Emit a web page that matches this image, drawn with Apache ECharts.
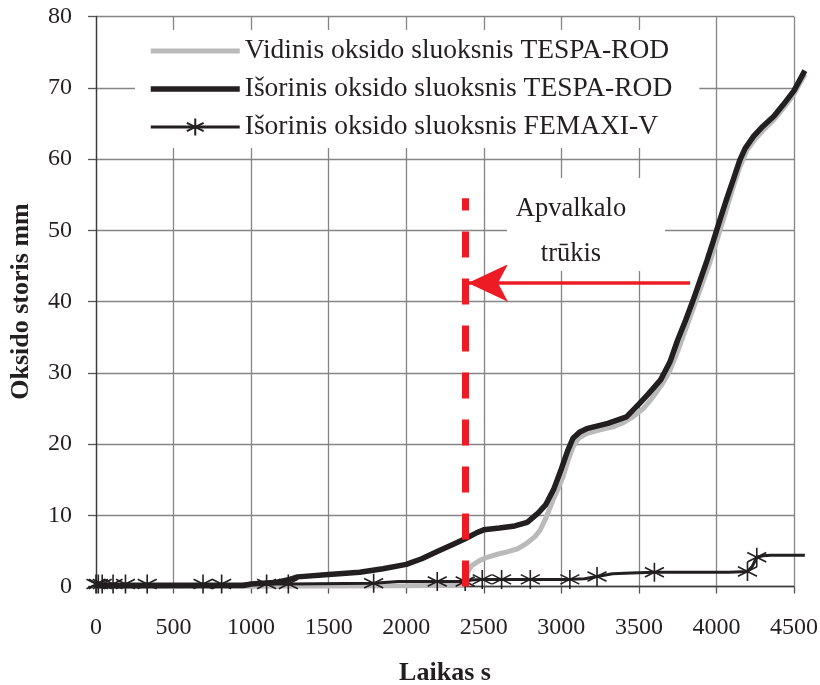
<!DOCTYPE html>
<html>
<head>
<meta charset="utf-8">
<script src="https://cdn.jsdelivr.net/npm/echarts@6/dist/echarts.min.js"></script>
<style>html,body{margin:0;padding:0;background:#fff}#c{width:820px;height:685px}</style>
</head>
<body>
<div id="c"></div>
<script>
// ---- data ----
const seriesNames = ['Vidinis oksido sluoksnis TESPA-ROD', 'Išorinis oksido sluoksnis TESPA-ROD', 'Išorinis oksido sluoksnis FEMAXI-V'];

const innerTime = [0,1000,2000,2380,2395,2420,2470,2521,2600,2650,2720,2779,2830,2863,2900,2946,2980,3011,3045,3075,3110,3166,3250,3333,3400,3462,3530,3591,3650,3700,3750,3800,3850,3900,3950,4000,4050,4100,4150,4195,4250,4300,4370,4430,4500,4570];
const innerVal  = [0.05,0.05,0.1,0.2,2.0,2.9,3.6,4.1,4.6,4.85,5.3,6.1,7.0,7.9,9.6,12.1,13.8,15.4,17.8,19.6,20.8,21.5,22.0,22.4,23.0,23.8,25.0,26.6,28.4,30.3,33.0,36.0,39.0,42.0,45.0,48.4,51.9,55.5,58.8,61.2,62.8,64.0,65.5,67.1,69.1,71.9];

const outerTime = [0,950,1000,1150,1250,1300,1500,1700,1850,2000,2100,2200,2300,2380,2450,2500,2600,2700,2780,2850,2900,2950,3000,3040,3075,3120,3170,3300,3420,3500,3560,3640,3700,3750,3800,3850,3900,3940,3980,4020,4060,4110,4150,4185,4240,4300,4370,4430,4500,4570];
const outerVal  = [0.1,0.15,0.35,0.55,1.0,1.35,1.7,2.0,2.5,3.1,3.9,4.9,5.9,6.7,7.5,7.95,8.2,8.5,9.0,10.3,11.5,13.6,16.5,19.0,20.8,21.7,22.2,22.9,23.8,25.6,27.0,29.0,31.5,34.6,37.3,40.2,43.3,45.8,48.5,51.3,54.0,57.2,59.8,61.5,63.2,64.6,66.0,67.6,69.6,72.4];

const femaxiTime = [0,15,40,110,190,330,690,810,1100,1240,1790,1950,2200,2380,2420,2490,2615,2800,3055,3150,3230,3330,3450,3600,4080,4200,4230,4260,4300,4350,4570];
const femaxiVal  = [0.35,0.35,0.35,0.35,0.35,0.35,0.35,0.35,0.35,0.35,0.45,0.7,0.7,0.7,0.9,1.0,1.0,1.0,1.0,1.1,1.4,1.8,1.9,2.0,2.0,2.1,2.8,4.1,4.3,4.4,4.4];
const femaxiMark = [1,1,1,1,1,1,1,1,1,1,1,0,1,1,0,1,1,1,1,0,1,0,0,1,0,1,0,1,0,0,0];

const breakTime = 2380;          // Apvalkalo trūkis
const breakTop = 54.5;
const arrowFrom = [3830, 42.6];
const arrowTo = [2398, 42.6];
const noteAt = [3159, 50.8];
const noteText = 'Apvalkalo\ntrūkis';

const xTitle = 'Laikas s';
const yTitle = 'Oksido storis mm';
// ---------------

const INK = '#231f20';
const FONT = '"Liberation Serif", "DejaVu Serif", serif';
const STAR = 'path://M0,-10 L0,10 M-8.66,-5 L8.66,5 M-8.66,5 L8.66,-5';

const pairs = (t, v) => t.map((x, i) => [x, v[i]]);

// plot frame: x 0..4500 over 698 px; data layer extends the same scale to 4600 so curves can run past the frame
const GL = 96, GW = 698, GT = 16.5, GB = 98.5, XMAX = 4500, XMAX_DATA = 4600;
const dataRight = 820 - GL - XMAX_DATA * GW / XMAX;

const chart = echarts.init(document.getElementById('c'), null, {renderer: 'canvas'});
chart.setOption({
  animation: false,
  backgroundColor: '#fff',
  textStyle: {fontFamily: FONT},
  grid: [
    {left: GL, right: 820 - GL - GW, top: GT, bottom: GB, containLabel: false, outerBoundsMode: 'none'},
    {left: GL, right: dataRight, top: GT, bottom: GB, containLabel: false, outerBoundsMode: 'none'}
  ],
  legend: {
    data: [
      {name: seriesNames[0], itemStyle: {opacity: 0}},
      {name: seriesNames[1], itemStyle: {opacity: 0}},
      {name: seriesNames[2]}
    ],
    orient: 'vertical',
    left: 135, top: 30,
    padding: [6, 27, 6, 13],
    backgroundColor: '#fff',
    itemWidth: 89, itemHeight: 21, itemGap: 8,
    lineStyle: {width: 'inherit'},
    textStyle: {fontFamily: FONT, fontSize: 27.5, color: INK, lineHeight: 30},
    z: 10
  },
  xAxis: [{
    gridIndex: 0, type: 'value', min: 0, max: XMAX, interval: 500,
    name: xTitle, nameLocation: 'middle', nameGap: 74,
    nameTextStyle: {fontFamily: FONT, fontSize: 26, fontWeight: 'bold', color: INK},
    axisLine: {show: true, onZero: false, lineStyle: {color: '#3a3a3a', width: 1.3}},
    axisTick: {show: true, inside: false, length: 7, lineStyle: {color: '#555', width: 1.3}},
    axisLabel: {fontFamily: FONT, fontSize: 24, color: INK, margin: 29, formatter: v => String(v)},
    splitLine: {show: true, lineStyle: {color: '#858585', width: 1.3}}
  }, {
    gridIndex: 1, type: 'value', min: 0, max: XMAX_DATA, show: false
  }],
  yAxis: [{
    gridIndex: 0, type: 'value', min: 0, max: 80, interval: 10,
    name: yTitle, nameLocation: 'middle', nameGap: 62, nameRotate: 90,
    nameTextStyle: {fontFamily: FONT, fontSize: 26, fontWeight: 'bold', color: INK},
    axisLine: {show: true, lineStyle: {color: '#3a3a3a', width: 1.3}},
    axisTick: {show: true, inside: false, length: 8, lineStyle: {color: '#555', width: 1.3}},
    axisLabel: {fontFamily: FONT, fontSize: 24, color: INK, margin: 24},
    splitLine: {show: true, lineStyle: {color: '#858585', width: 1.3}}
  }, {
    gridIndex: 1, type: 'value', min: 0, max: 80, show: false
  }],
  series: [
    {
      name: seriesNames[0], type: 'line', xAxisIndex: 1, yAxisIndex: 1,
      data: pairs(innerTime, innerVal),
      showSymbol: false, symbol: 'none',
      lineStyle: {color: '#bababa', width: 5},
      itemStyle: {color: '#bababa'},
      z: 2
    },
    {
      name: seriesNames[1], type: 'line', xAxisIndex: 1, yAxisIndex: 1,
      data: pairs(outerTime, outerVal),
      showSymbol: false, symbol: 'none',
      lineStyle: {color: INK, width: 5.5},
      itemStyle: {color: INK},
      z: 3
    },
    {
      name: seriesNames[2], type: 'line', xAxisIndex: 1, yAxisIndex: 1,
      data: femaxiTime.map((t, i) => ({
        value: [t, femaxiVal[i]],
        symbol: femaxiMark[i] ? STAR : 'none'
      })),
      symbol: STAR, symbolSize: 19, showAllSymbol: true,
      lineStyle: {color: INK, width: 3},
      itemStyle: {color: 'none', borderColor: INK, borderWidth: 1.6},
      z: 4,
      markLine: {
        silent: true, animation: false, z: 5,
        label: {show: false},
        data: [
          [{coord: [breakTime, 0], symbol: 'none', lineStyle: {color: '#ed1c24', width: 7, type: [26, 21]}},
           {coord: [breakTime, breakTop], symbol: 'none'}],
          [{coord: arrowFrom, symbol: 'none', lineStyle: {color: '#ed1c24', width: 3.5, type: 'solid'}},
           {coord: arrowTo, symbol: 'arrow', symbolSize: [28, 40]}]
        ]
      },
      markPoint: {
        silent: true, animation: false, z: 5,
        data: [{
          coord: noteAt, symbol: 'rect', symbolSize: [158, 93],
          itemStyle: {color: '#fff', borderWidth: 0},
          label: {show: true, position: 'inside', offset: [-15, 7], formatter: noteText,
                  fontFamily: FONT, fontSize: 26.5, lineHeight: 45, color: INK, align: 'center'}
        }]
      }
    }
  ]
});
</script>
</body>
</html>
